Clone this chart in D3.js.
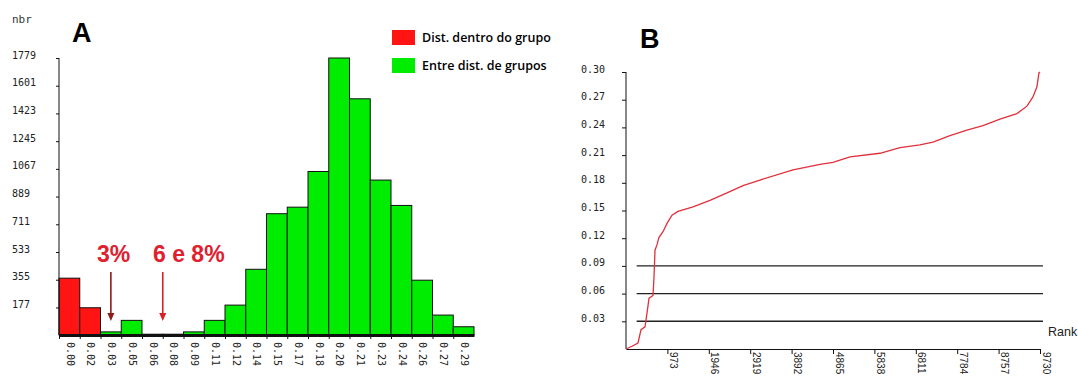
<!DOCTYPE html>
<html lang="en">
<head>
<meta charset="utf-8">
<title>Distâncias</title>
<script src="https://cdn.jsdelivr.net/npm/d3@7"></script>
<style>
  body { margin: 0; background: #fff; }
  .mono text { font-family: "DejaVu Sans Mono", monospace; font-size: 10px; fill: #222; }
  .axis path, .axis line { stroke: #111; }
  .panel { font-family: "Liberation Sans", Arial, sans-serif; font-weight: bold; font-size: 27px; }
  .legend { font-family: "Open Sans", sans-serif; font-weight: 600; font-size: 12.5px; }
  .note { font-family: "Liberation Sans", Arial, sans-serif; font-weight: bold; font-size: 23px; fill: #e0202e; }
</style>
</head>
<body>
<svg width="1078" height="378"></svg>
<script>
// ---- panel A : histogram
var binLabels = ["0.00","0.02","0.03","0.05","0.06","0.08","0.09","0.11","0.12","0.14",
                 "0.15","0.17","0.18","0.20","0.21","0.23","0.24","0.26","0.27","0.29"];
var binCounts = [365, 175, 20, 94, 5, 5, 20, 94, 192, 422,
                 779, 821, 1050, 1779, 1517, 995, 832, 352, 128, 53];
var withinBins = 2; // first bins are within-group distances
var yTicksA = [177, 355, 533, 711, 889, 1067, 1245, 1423, 1601, 1779];

// ---- panel B : ranked distances
var rankPts = [0, 141, 282, 353, 447, 494, 541, 635, 658, 682, 729, 776, 870, 964, 1081, 1222,
               1575, 1974, 2374, 2750, 3149, 3925, 4559, 4865, 5264, 5969, 6439, 6909, 7215,
               7614, 8013, 8390, 8789, 9188, 9423, 9564, 9658, 9705, 9730];
var distPts = [0, 0.003, 0.0065, 0.021, 0.024, 0.039, 0.055, 0.058, 0.078, 0.107, 0.113, 0.121,
               0.127, 0.136, 0.145, 0.149, 0.154, 0.161, 0.169, 0.177, 0.183, 0.194, 0.200,
               0.202, 0.208, 0.212, 0.218, 0.221, 0.224, 0.231, 0.237, 0.242, 0.249, 0.255,
               0.263, 0.273, 0.284, 0.299, 0.300];
var rankTicks = [973, 1946, 2919, 3892, 4865, 5838, 6811, 7784, 8757, 9730];
var yTicksB = [0.03, 0.06, 0.09, 0.12, 0.15, 0.18, 0.21, 0.24, 0.27, 0.30];
var thresholds = [0.03, 0.06, 0.09];

var svg = d3.select("svg");

// ================= A
var xA = d3.scaleLinear().domain([0, binCounts.length]).range([59, 474]);
var yA = d3.scaleLinear().domain([0, 1779]).range([335, 58]);

var gA = svg.append("g");

gA.selectAll("rect.bar")
  .data(binCounts)
  .enter().append("rect")
  .attr("class", "bar")
  .attr("x", function(d, i) { return xA(i); })
  .attr("width", function(d, i) { return xA(i + 1) - xA(i); })
  .attr("y", function(d) { return yA(d); })
  .attr("height", function(d) { return yA(0) - yA(d); })
  .attr("fill", function(d, i) { return i < withinBins ? "#ff1414" : "#00ec00"; })
  .attr("stroke", "#111")
  .attr("stroke-width", 1);

// y axis
var yAxisA = gA.append("g")
  .attr("class", "axis mono")
  .attr("transform", "translate(59,0)")
  .call(d3.axisLeft(yA).tickValues(yTicksA).tickFormat(d3.format("d")).tickSize(3).tickSizeOuter(0));
yAxisA.select(".domain").attr("d", "M0," + yA(0) + "V" + yA(1779));
yAxisA.selectAll("text").attr("x", -47).attr("dy", "0").attr("text-anchor", "start");

// x axis
var xAxisA = gA.append("g")
  .attr("class", "axis mono")
  .attr("transform", "translate(0," + yA(0) + ")")
  .call(d3.axisBottom(xA).tickValues(d3.range(binLabels.length))
        .tickFormat(function(i) { return binLabels[i]; }).tickSize(4).tickSizeOuter(0));
xAxisA.select(".domain").attr("stroke-width", 3);
xAxisA.selectAll("text")
  .attr("text-anchor", "start")
  .attr("transform", "rotate(90)")
  .attr("x", 7).attr("y", -7).attr("dy", "0");

gA.append("text").attr("x", 12).attr("y", 23)
  .attr("font-family", "DejaVu Sans Mono").attr("font-size", 11).attr("fill", "#333").text("nbr");
gA.append("text").attr("class", "panel").attr("x", 72).attr("y", 42).text("A");

// legend
var legend = [
  { label: "Dist. dentro do grupo", color: "#ff1414" },
  { label: "Entre dist. de grupos", color: "#00ec00" }
];
var lg = gA.selectAll("g.leg").data(legend).enter().append("g")
  .attr("transform", function(d, i) { return "translate(392," + (30 + i * 28) + ")"; });
lg.append("rect").attr("width", 23).attr("height", 15).attr("fill", function(d) { return d.color; });
lg.append("text").attr("class", "legend").attr("x", 30).attr("y", 12).text(function(d) { return d.label; });

// annotations
function arrow(x, y0, y1, col) {
  gA.append("line").attr("x1", x).attr("x2", x).attr("y1", y0).attr("y2", y1 - 6)
    .attr("stroke", col).attr("stroke-width", 1.6);
  gA.append("path").attr("d", "M" + (x - 3.5) + "," + (y1 - 8) + "L" + (x + 3.5) + "," + (y1 - 8) + "L" + x + "," + y1 + "Z")
    .attr("fill", col);
}
gA.append("text").attr("class", "note").attr("x", 97).attr("y", 262).text("3%");
gA.append("text").attr("class", "note").attr("x", 153).attr("y", 262).text("6 e 8%");
arrow(xA(2.5), 272, 321, "#8e1a1a");
arrow(xA(5) , 272, 321, "#d8202a");

// ================= B
var xB = d3.scaleLinear().domain([0, 9730]).range([626, 1040]);
var yB = d3.scaleLinear().domain([0, 0.30]).range([349, 72]);
var gB = svg.append("g");

var yAxisB = gB.append("g")
  .attr("class", "axis mono")
  .attr("transform", "translate(626,0)")
  .call(d3.axisLeft(yB).tickValues(yTicksB).tickFormat(d3.format(".2f")).tickSize(4).tickSizeOuter(0));
yAxisB.select(".domain").attr("d", "M0," + yB(0) + "V" + yB(0.30));
yAxisB.selectAll("text").attr("x", -45).attr("dy", "0").attr("text-anchor", "start");

var xAxisB = gB.append("g")
  .attr("class", "axis")
  .attr("transform", "translate(0," + yB(0) + ")")
  .call(d3.axisBottom(xB).tickValues(rankTicks).tickFormat(d3.format("d")).tickSize(5).tickSizeOuter(0));
xAxisB.selectAll("text")
  .attr("font-family", "Liberation Sans, Arial, sans-serif").attr("font-size", 10).attr("fill", "#222")
  .attr("text-anchor", "start")
  .attr("transform", "rotate(90)")
  .attr("x", 3).attr("y", -2).attr("dy", "0");

gB.selectAll("line.thr").data(thresholds).enter().append("line")
  .attr("class", "thr")
  .attr("x1", xB(250)).attr("x2", xB(9800))
  .attr("y1", function(d) { return yB(d); }).attr("y2", function(d) { return yB(d); })
  .attr("stroke", "#222").attr("stroke-width", 1.4);

var pts = rankPts.map(function(r, i) { return [r, distPts[i]]; });
gB.append("path")
  .datum(pts)
  .attr("fill", "none")
  .attr("stroke", "#e0303c")
  .attr("stroke-width", 1.3)
  .attr("d", d3.line().x(function(d) { return xB(d[0]); }).y(function(d) { return yB(d[1]); }));

gB.append("text").attr("x", 1048).attr("y", 336)
  .attr("font-family", "Liberation Sans, Arial, sans-serif").attr("font-size", 12.5).attr("fill", "#222").text("Rank");
gB.append("text").attr("class", "panel").attr("x", 640).attr("y", 48).text("B");
</script>
</body>
</html>
